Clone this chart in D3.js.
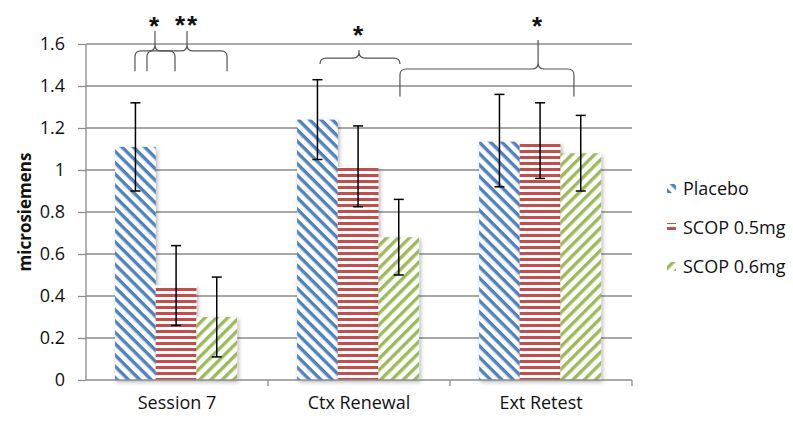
<!DOCTYPE html>
<meta charset="utf-8">
<head>
  <title>Skin conductance by session</title>
</head>

<style>
body {
  margin: 0;
  background: #fff;
}
text {
  font-family: "Open Sans", sans-serif;
  fill: #111;
}
</style>

<body>
  <div id="content"></div>

  <script src="https://cdnjs.cloudflare.com/ajax/libs/d3/7.8.5/d3.min.js"></script>

  <script>
var categories = ['Session 7', 'Ctx Renewal', 'Ext Retest'];
var series = ['Placebo', 'SCOP 0.5mg', 'SCOP 0.6mg'];
// one row per series, one value per category
var means = [
  [1.11, 1.24, 1.135],
  [0.45, 1.015, 1.13],
  [0.30, 0.68, 1.08]
];
var errLow = [
  [0.90, 1.05, 0.92],
  [0.26, 0.825, 0.96],
  [0.11, 0.50, 0.90]
];
var errHigh = [
  [1.32, 1.43, 1.36],
  [0.64, 1.21, 1.32],
  [0.49, 0.86, 1.26]
];
var yTicks = [0, 0.2, 0.4, 0.6, 0.8, 1, 1.2, 1.4, 1.6];

// significance braces, x in category units (0..3), y in microsiemens
var braceX0 = [0.269, 0.335, 1.286, 1.725];
var braceX1 = [0.489, 0.775, 1.725, 2.681];
var bracePeak = [0.379, 0.555, 1.50, 2.484];
var braceEnd = [1.47, 1.47, 1.51, 1.35];
var braceMid = [1.567, 1.567, 1.533, 1.481];
var braceTop = [1.662, 1.662, 1.571, 1.619];
var braceLabel = ['*', '**', '*', '*'];
var braceLabelY = [1.715, 1.72, 1.67, 1.715];

var colors = ['#4f81bd', '#c0504d', '#9bbb59'];

var width = 793, height = 421;
var svg = d3.select('#content').append('svg')
  .attr('width', width)
  .attr('height', height);

var defs = svg.append('defs');

// stripe patterns
var pats = [
  {id: 'p0', rot: 45, size: 8, band: 3.4},
  {id: 'p1', rot: 0, size: 6, band: 3},
  {id: 'p2', rot: -45, size: 8, band: 3.4}
];
pats.forEach(function(p, i) {
  var pat = defs.append('pattern')
    .attr('id', p.id)
    .attr('patternUnits', 'userSpaceOnUse')
    .attr('width', p.size)
    .attr('height', p.size)
    .attr('patternTransform', 'rotate(' + p.rot + ')');
  pat.append('rect').attr('width', p.size).attr('height', p.size).attr('fill', '#fff');
  pat.append('rect').attr('y', 0).attr('width', p.size).attr('height', p.band).attr('fill', colors[i]);
});

var shadow = defs.append('filter').attr('id', 'shadow')
  .attr('x', '-20%').attr('y', '-5%').attr('width', '140%').attr('height', '115%');
shadow.append('feDropShadow')
  .attr('dx', 1.5).attr('dy', 2).attr('stdDeviation', 2)
  .attr('flood-color', '#000').attr('flood-opacity', 0.3);

var plotLeft = 86, plotRight = 632, plotTop = 44, plotBottom = 380;

var y = d3.scaleLinear().domain([0, 1.6]).range([plotBottom, plotTop]);
var x0 = d3.scaleBand().domain(categories).range([plotLeft, plotRight]);
var x1 = d3.scaleBand().domain(series)
  .range([x0.bandwidth() * 0.16, x0.bandwidth() * 0.83]);
var xc = d3.scaleLinear().domain([0, 3]).range([plotLeft, plotRight]);

// gridlines
svg.append('g')
  .selectAll('line')
  .data(yTicks.slice(1))
  .join('line')
  .attr('x1', plotLeft).attr('x2', plotRight)
  .attr('y1', function(d) { return y(d); })
  .attr('y2', function(d) { return y(d); })
  .attr('stroke', '#8c8c8c')
  .attr('stroke-width', 1.3);

// y axis
var yAxis = svg.append('g')
  .attr('transform', 'translate(' + plotLeft + ',0)')
  .call(d3.axisLeft(y).tickValues(yTicks).tickSize(8).tickPadding(13)
    .tickFormat(function(d) { return d3.format('')(d); }));
yAxis.selectAll('path, line').attr('stroke', '#8c8c8c').attr('stroke-width', 1.3);
yAxis.select('.domain').attr('d', 'M0,' + plotBottom + 'V' + plotTop);
yAxis.selectAll('text').style('font-family', '"Open Sans", sans-serif')
  .style('font-size', '18px').attr('fill', '#111');

// bars
var groups = svg.append('g')
  .selectAll('g')
  .data(series)
  .join('g')
  .attr('filter', 'url(#shadow)');

groups.each(function(s, si) {
  d3.select(this).selectAll('rect')
    .data(categories)
    .join('rect')
    .attr('x', function(c) { return x0(c) + x1(s); })
    .attr('width', x1.bandwidth())
    .attr('y', function(c, ci) { return y(means[si][ci]); })
    .attr('height', function(c, ci) { return y(0) - y(means[si][ci]); })
    .attr('fill', 'url(#p' + si + ')');
});

// x axis
var xAxis = svg.append('g')
  .attr('transform', 'translate(0,' + plotBottom + ')')
  .call(d3.axisBottom(x0).tickSize(0).tickPadding(16));
xAxis.select('.domain').attr('stroke', '#8c8c8c').attr('stroke-width', 1.3)
  .attr('d', 'M' + plotLeft + ',0H' + plotRight);
xAxis.selectAll('text').style('font-family', '"Open Sans", sans-serif')
  .style('font-size', '18px').attr('fill', '#111');
svg.append('g')
  .selectAll('line')
  .data(d3.range(1, 4))
  .join('line')
  .attr('x1', function(d) { return xc(d); })
  .attr('x2', function(d) { return xc(d); })
  .attr('y1', plotBottom).attr('y2', plotBottom + 6)
  .attr('stroke', '#8c8c8c').attr('stroke-width', 1.3);

// error bars
var eb = svg.append('g').attr('stroke', '#000').attr('stroke-width', 1.5);
series.forEach(function(s, si) {
  categories.forEach(function(c, ci) {
    var cx = x0(c) + x1(s) + x1.bandwidth() / 2;
    eb.append('line').attr('x1', cx).attr('x2', cx)
      .attr('y1', y(errLow[si][ci])).attr('y2', y(errHigh[si][ci]));
    [errLow[si][ci], errHigh[si][ci]].forEach(function(v) {
      eb.append('line').attr('x1', cx - 5).attr('x2', cx + 5)
        .attr('y1', y(v)).attr('y2', y(v));
    });
  });
});

// braces
var r = 6;
braceLabel.forEach(function(lab, i) {
  var a = xc(braceX0[i]), b = xc(braceX1[i]), p = xc(bracePeak[i]);
  var ye = y(braceEnd[i]), ym = y(braceMid[i]), yt = y(braceTop[i]);
  var path = 'M' + a + ',' + ye +
    'V' + (ym + r) + 'Q' + a + ',' + ym + ' ' + (a + r) + ',' + ym +
    'H' + (p - r) + 'Q' + p + ',' + ym + ' ' + p + ',' + (ym - r) +
    'V' + yt +
    'M' + p + ',' + (ym - r) + 'Q' + p + ',' + ym + ' ' + (p + r) + ',' + ym +
    'H' + (b - r) + 'Q' + b + ',' + ym + ' ' + b + ',' + (ym + r) +
    'V' + ye;
  svg.append('path').attr('d', path)
    .attr('fill', 'none').attr('stroke', '#555').attr('stroke-width', 1.2);
  svg.append('text')
    .attr('x', p).attr('y', y(braceLabelY[i]) + 15)
    .attr('text-anchor', 'middle')
    .style('font-family', '"Liberation Sans", Arial, sans-serif')
    .style('font-weight', 'bold')
    .style('font-size', '26px')
    .style('letter-spacing', '2px')
    .text(lab);
});

// y label
svg.append('text')
  .attr('transform', 'translate(31,' + ((plotTop + plotBottom) / 2) + ') rotate(-90)')
  .attr('text-anchor', 'middle')
  .style('font-weight', 'bold')
  .style('font-size', '17px')
  .text('microsiemens');

// legend
var legend = svg.append('g')
  .selectAll('g')
  .data(series)
  .join('g')
  .attr('transform', function(d, i) { return 'translate(667,' + (188 + i * 39) + ')'; });
legend.append('rect')
  .attr('x', 0).attr('y', -4).attr('width', 9).attr('height', 9)
  .attr('fill', function(d, i) { return 'url(#p' + i + ')'; });
legend.append('text')
  .attr('x', 16).attr('y', 7)
  .style('font-size', '18px')
  .text(function(d) { return d; });
  </script>
</body>
</html>
